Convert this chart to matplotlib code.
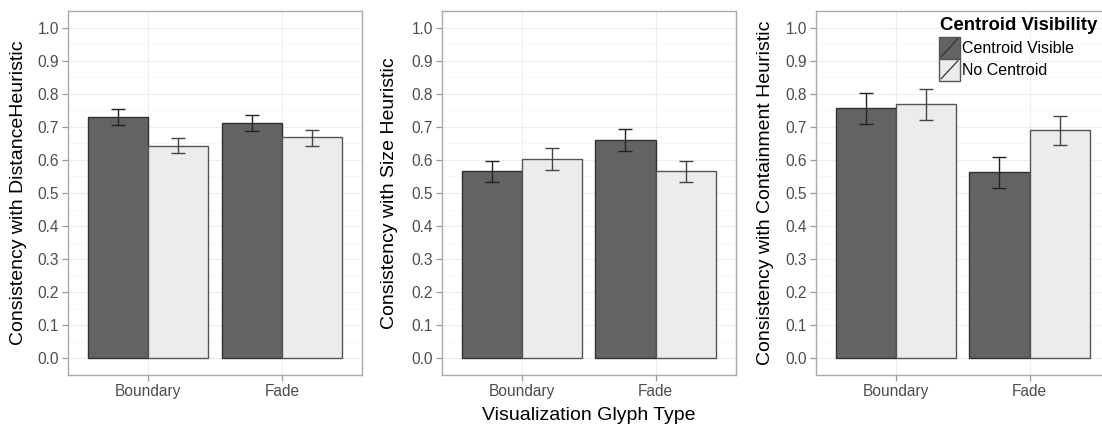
import numpy as np
import matplotlib

matplotlib.use("Agg")
import matplotlib.pyplot as plt
from matplotlib.patches import Rectangle
from matplotlib.lines import Line2D
from matplotlib.legend_handler import HandlerBase
from matplotlib.ticker import MultipleLocator

plt.rcParams["font.family"] = ["Liberation Sans", "DejaVu Sans"]

GLYPH_TYPES = ["Boundary", "Fade"]
GROUPS = ["Centroid Visible", "No Centroid"]
YLABELS = [
    "Consistency with DistanceHeuristic",
    "Consistency with Size Heuristic",
    "Consistency with Containment Heuristic",
]

# mean, lower, upper per panel: [visible, no centroid] x [Boundary, Fade]
dist_mean = [[0.729, 0.712], [0.643, 0.668]]
dist_lo = [[0.705, 0.688], [0.620, 0.643]]
dist_hi = [[0.754, 0.737], [0.667, 0.690]]

size_mean = [[0.565, 0.660], [0.603, 0.565]]
size_lo = [[0.532, 0.628], [0.571, 0.534]]
size_hi = [[0.598, 0.694], [0.635, 0.597]]

cont_mean = [[0.756, 0.564], [0.769, 0.689]]
cont_lo = [[0.709, 0.516], [0.721, 0.645]]
cont_hi = [[0.803, 0.610], [0.815, 0.734]]

PANELS = [
    (dist_mean, dist_lo, dist_hi),
    (size_mean, size_lo, size_hi),
    (cont_mean, cont_lo, cont_hi),
]

FILLS = ["#636363", "#ececec"]
EDGES = ["#303030", "#555555"]
ERRC = ["#222222", "#444444"]

W, H = 1102, 428
fig = plt.figure(figsize=(W / 100, H / 100), dpi=100)

lefts = [68, 441.7, 815.7]
ylab_x = [18.5, 390, 765]
pw = 294
top, bottom = 11, 375


class SlashHandler(HandlerBase):
    def create_artists(self, legend, orig, xd, yd, width, height, fontsize, trans):
        r = Rectangle((-xd, -yd), width, height, facecolor=orig.get_facecolor(),
                      edgecolor="#555555", lw=1.0, transform=trans)
        ln = Line2D([-xd + 1.5, -xd + width - 1.5], [-yd + 1.5, -yd + height - 1.5],
                    color="#333333", lw=0.9, transform=trans)
        return [r, ln]


x = np.arange(1, len(GLYPH_TYPES) + 1)
bw = 0.45
for i, (means, los, his) in enumerate(PANELS):
    ax = fig.add_axes([lefts[i] / W, 1 - bottom / H, pw / W, (bottom - top) / H])
    for g in range(2):
        xs = x + (g - 0.5) * bw
        m = np.array(means[g])
        ax.bar(xs, m, width=bw, color=FILLS[g], edgecolor=EDGES[g], linewidth=1.0, zorder=2)
        err = np.vstack([m - np.array(los[g]), np.array(his[g]) - m])
        ax.errorbar(xs, m, yerr=err, fmt="none", ecolor=ERRC[g], elinewidth=1.0,
                    capsize=4.7, capthick=1.0, zorder=3)
    ax.set_xlim(0.4, 2.6)
    ax.set_xticks(x)
    ax.set_xticklabels(GLYPH_TYPES)
    ax.yaxis.set_minor_locator(MultipleLocator(0.05))
    ax.set_yticks(np.arange(0, 1.01, 0.1))
    ax.set_yticklabels([f"{v:.1f}" for v in np.arange(0, 1.01, 0.1)])
    ax.set_ylim(-0.05, 1.05)
    ax.grid(which="major", color="#ededed", lw=0.8, zorder=0)
    ax.grid(which="minor", axis="y", color="#f6f6f6", lw=0.6, zorder=0)
    ax.set_axisbelow(True)
    ax.tick_params(which="major", length=4, width=0.9, color="#999999",
                   labelcolor="#4d4d4d", labelsize=11.2, pad=2.4)
    ax.tick_params(which="minor", length=0)
    for s in ax.spines.values():
        s.set_color("#aaaaaa")
        s.set_linewidth(1.0)
    ax.set_ylabel(YLABELS[i], fontsize=14, color="black", va="center")
    ax.yaxis.set_label_coords((ylab_x[i] - lefts[i]) / pw, 0.5)

fig.text((lefts[1] + pw / 2) / W, 1 - 415 / H, "Visualization Glyph Type",
         ha="center", va="center", fontsize=14)

fig.text(940 / W, 1 - 29.5 / H, "Centroid Visibility", ha="left", va="baseline",
         fontsize=13.4, fontweight="bold")
handles = [Rectangle((0, 0), 1, 1, facecolor=c) for c in FILLS]
fig.legend(handles, GROUPS, loc="upper left",
           bbox_to_anchor=(939 / W, 1 - 36.7 / H), frameon=False, borderpad=0,
           borderaxespad=0, handlelength=1.31, handleheight=1.75, labelspacing=0.0,
           handletextpad=0.15, fontsize=11.5,
           handler_map={Rectangle: SlashHandler()})

fig.savefig("out.png", dpi=100)
